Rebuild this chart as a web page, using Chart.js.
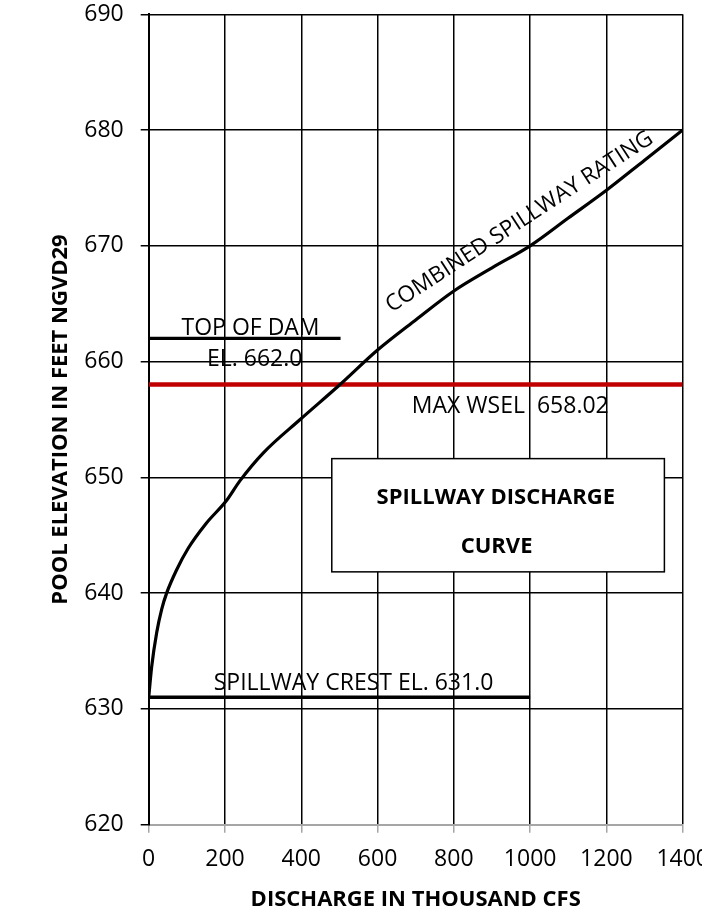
<!DOCTYPE html>
<html>
<head>
<meta charset="utf-8">
<script src="https://cdn.jsdelivr.net/npm/chart.js@4.4.1/dist/chart.umd.min.js"></script>
<style>
  html, body { margin: 0; padding: 0; background: #fff; }
  #wrap { width: 702px; height: 909px; }
</style>
</head>
<body>
<div id="wrap"><canvas id="rating"></canvas></div>
<script>
// combined spillway rating curve (thousand cfs vs pool elevation, ft)
const discharge = [0, 8, 21, 34, 47, 73, 104, 150, 204, 239, 300, 397, 501, 600, 700, 800, 900, 1000, 1100, 1200, 1300, 1400];
const elevation = [631, 633.7, 636.6, 638.6, 640, 642, 643.9, 646, 648, 649.7, 652.1, 655, 658, 661, 663.6, 666.1, 668.1, 670, 672.4, 674.8, 677.4, 680];

// horizontal reference levels: [elevation, from, to]
const topOfDam = [662.0, 0, 503];
const maxWsel = [658.02, 0, 1400];
const spillwayCrest = [631.0, 0, 1000];

const xTicks = [0, 200, 400, 600, 800, 1000, 1200, 1400];
const yTicks = [620, 630, 640, 650, 660, 670, 680, 690];

const FONT = "'Open Sans', sans-serif";

function level(arr) {
  return [{ x: arr[1], y: arr[0] }, { x: arr[2], y: arr[0] }];
}

// text notes and the title box, positioned in data units
const notes = {
  id: "notes",
  beforeDatasetsDraw(chart) {
    const { ctx, scales: { x, y } } = chart;
    const x0 = x.getPixelForValue(480), x1 = x.getPixelForValue(1352);
    const y0 = y.getPixelForValue(651.62), y1 = y.getPixelForValue(641.84);
    ctx.save();
    ctx.fillStyle = "#fff";
    ctx.fillRect(x0, y0, x1 - x0, y1 - y0);
    ctx.strokeStyle = "#000";
    ctx.lineWidth = 1.5;
    ctx.strokeRect(x0, y0, x1 - x0, y1 - y0);
    ctx.restore();
  },
  afterDatasetsDraw(chart) {
    const { ctx, scales: { x, y } } = chart;
    const put = (txt, q, el, font, angle) => {
      ctx.save();
      ctx.translate(x.getPixelForValue(q), y.getPixelForValue(el));
      if (angle) ctx.rotate(angle * Math.PI / 180);
      ctx.font = font;
      ctx.fillStyle = "#000";
      ctx.textAlign = "center";
      ctx.textBaseline = "alphabetic";
      ctx.fillText(txt, 0, 0);
      ctx.restore();
    };
    const plain = "23px " + FONT;
    const bold = "bold 22px " + FONT;
    put("TOP OF DAM", 267, 662.3, plain);
    put("EL. 662.0", 278, 659.6, plain);
    put("MAX WSEL  658.02", 948, 655.6, plain);
    put("SPILLWAY CREST EL. 631.0", 537, 631.6, plain);
    put("COMBINED SPILLWAY RATING", 981, 671.6, "22.5px " + FONT, -33);
    put("SPILLWAY DISCHARGE", 910, 647.68, bold);
    put("CURVE", 912, 643.48, bold);
  }
};

new Chart(document.getElementById("rating"), {
  type: "line",
  data: {
    datasets: [
      {
        data: discharge.map((q, i) => ({ x: q, y: elevation[i] })),
        borderColor: "#000",
        borderWidth: 3.2,
        pointRadius: 0,
        cubicInterpolationMode: "monotone",
      },
      {
        data: level(maxWsel),
        borderColor: "#c00000",
        borderWidth: 4.5,
        pointRadius: 0,
      },
      {
        data: level(topOfDam),
        borderColor: "#000",
        borderWidth: 3.2,
        pointRadius: 0,
      },
      {
        data: level(spillwayCrest),
        borderColor: "#000",
        borderWidth: 3.5,
        pointRadius: 0,
      },
    ],
  },
  options: {
    responsive: true,
    maintainAspectRatio: false,
    animation: false,
    layout: { padding: { left: 0, right: 19.3, top: 14.3, bottom: 0 } },
    plugins: { legend: { display: false }, tooltip: { enabled: false } },
    scales: {
      x: {
        type: "linear",
        min: 0,
        max: 1400,
        afterBuildTicks: (s) => { s.ticks = xTicks.map((v) => ({ value: v })); },
        afterFit: (s) => { s.height = 84.3; s.paddingLeft = 0; s.paddingRight = 0; },
        ticks: { font: { family: FONT, size: 23 }, color: "#000", padding: 13, maxRotation: 0, callback: (v) => String(v) },
        grid: { color: "#000", lineWidth: 1.5, tickColor: "#a6a6a6", tickLength: 8 },
        border: { color: "#a6a6a6", width: 2 },
        title: {
          display: true,
          text: "DISCHARGE IN THOUSAND CFS",
          font: { family: FONT, size: 22, weight: "bold" },
          color: "#000",
          padding: { top: 0, bottom: -4 },
        },
      },
      y: {
        type: "linear",
        min: 620,
        max: 690,
        afterBuildTicks: (s) => { s.ticks = yTicks.map((v) => ({ value: v })); },
        afterFit: (s) => { s.width = 148.7; s.paddingTop = 0; s.paddingBottom = 0; },
        ticks: { font: { family: FONT, size: 23 }, color: "#000", padding: 17, callback: (v) => String(v) },
        grid: {
          color: (c) => (c.tick && c.tick.value === 620 ? "#a6a6a6" : "#000"),
          lineWidth: 1.5,
          tickColor: "#000",
          tickLength: 8,
        },
        border: { color: "#000", width: 2 },
        title: {
          display: true,
          text: "POOL ELEVATION IN FEET NGVD29",
          font: { family: FONT, size: 22, weight: "bold" },
          color: "#000",
          padding: { top: 48, bottom: 0 },
        },
      },
    },
  },
  plugins: [notes],
});
</script>
</body>
</html>
